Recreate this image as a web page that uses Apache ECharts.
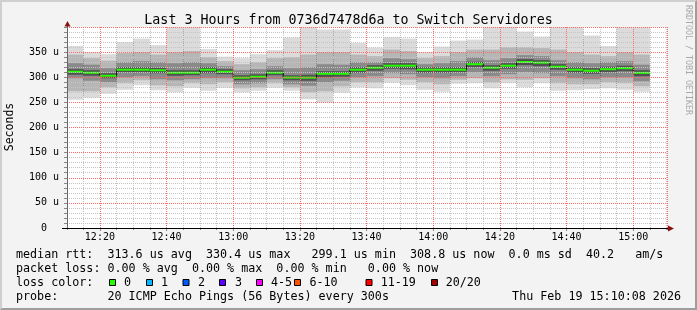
<!DOCTYPE html>
<html><head><meta charset="utf-8">
<script src="https://cdn.jsdelivr.net/npm/echarts@6/dist/echarts.min.js"></script>
<style>
html,body{margin:0;padding:0;background:#f3f3f3;}
#chart{position:absolute;left:0;top:0;width:697px;height:310px;}
#frame{position:absolute;left:0;top:0;width:697px;height:310px;box-sizing:border-box;border-top:2px solid #cfcfcf;border-left:2px solid #cfcfcf;border-right:2px solid #9e9e9e;border-bottom:2px solid #9e9e9e;pointer-events:none;}
</style></head><body>
<div id="chart"></div><div id="frame"></div>
<script>
// ---- data (microseconds) ----
const medianVals = [311,309,303,315,315,314,309,309,315,311,299.1,301,309,299.4,299.2,307,307,315,319,323,323,315,315,315,326,319,323,330.4,329,321,315,313,316,318,308.8];
const maxVals    = [362,350,346,370,377,364,415,415,356,341,338,346,354,379,415,395,395,368,359,380,377,350,361,373,375,415,415,391,381,415,415,383,362,415,415];
const hi2Vals    = [345,338,333,348,350,345,350,352,340,332,326,330,338,340,345,350,350,345,342,355,352,338,342,350,355,355,360,360,358,355,350,345,342,350,345];
const hi1Vals    = [328,325,318,330,332,330,328,330,328,322,314,316,322,318,320,326,325,330,330,338,336,326,328,332,340,334,338,344,342,334,330,328,330,332,325];
const coreHiVals = [316,314,308,320,320,319,314,314,320,316,304,306,314,304,305,312,312,320,324,328,328,320,320,320,331,324,328,336,334,326,320,318,321,323,314];
const coreLoVals = [305,303,298,310,310,308,303,304,308,306,294,296,304,294,293,300,301,309,313,317,316,309,309,310,320,313,317,324,322,315,309,307,310,312,302];
const lo1Vals    = [298,293,290,300,302,296,294,296,298,298,286,288,296,286,283,290,293,300,302,308,306,300,298,302,310,302,306,310,308,302,298,296,300,300,292];
const lo2Vals    = [272,272,280,288,294,284,282,288,286,290,278,280,288,280,270,272,282,290,290,298,295,290,286,295,298,290,296,295,298,288,286,286,290,288,282];
const minVals    = [255,259,267,275,284,274,270,279,273,279,270,273,279,273,256,250,269,280,278,289,284,275,271,287,288,278,288,280,288,273,274,276,278,275,271];
const yTicks = [0,50,100,150,200,250,300,350];
const lossLabels = ["0","1","2","3","4-5","6-10","11-19","20/20"];
const lossColors = ["#26ff00","#00b8ff","#0059ff","#5e00ff","#ff00ff","#ff5500","#ff0000","#a00000"];

const T0 = new Date(2026,1,19,12,10,8).getTime();
const T1 = T0 + 3*3600*1000;
const slotBase = new Date(2026,1,19,12,10,0).getTime();
const STEP = 300*1000;

const rows = medianVals.map((m,i)=>[slotBase+i*STEP, slotBase+(i+1)*STEP,
  minVals[i], lo2Vals[i], lo1Vals[i], coreLoVals[i], coreHiVals[i], hi1Vals[i], hi2Vals[i], maxVals[i],
  m, i>0 ? medianVals[i-1] : -1]);

const MONO = "'DejaVu Sans Mono', monospace";
const chart = echarts.init(document.getElementById('chart'), null, {renderer:'canvas'});

function txt(x,y,text,size,align){
  align = align||'left';
  return {type:'text', silent:true, style:{
    x:x, y:y, text:text, font: size+'px '+MONO, fill:'#000',
    textAlign:align, textVerticalAlign:'middle', align:align, verticalAlign:'middle'}};
}

const graphics = [];
const L = 16;
graphics.push(txt(L,254.5,"median rtt:  313.6 us avg  330.4 us max   299.1 us min  308.8 us now  0.0 ms sd  40.2   am/s",11.7));
graphics.push(txt(L,268.5,"packet loss: 0.00 % avg  0.00 % max  0.00 % min   0.00 % now",11.7));
graphics.push(txt(L,282.5,"loss color:",11.7));
graphics.push(txt(L,296.5,"probe:       20 ICMP Echo Pings (56 Bytes) every 300s",11.7));
graphics.push(txt(681,296.5,"Thu Feb 19 15:10:08 2026",11.7,'right'));
const sqX = [109,146,182.5,219,256,294,365.5,431];
const lbX = [124,161,198,235,271,309.5,380.7,445.7];
lossLabels.forEach((lab,i)=>{
  graphics.push({type:'rect', silent:true, shape:{x:sqX[i]+0.5,y:279.5,width:6,height:6},
    style:{fill:lossColors[i], stroke:'#000', lineWidth:1}});
  graphics.push(txt(lbX[i],282.5,lab,11.7));
});
graphics.push({type:'text', silent:true, x:10, y:127, rotation:Math.PI/2,
  style:{text:'Seconds', font:'11.5px '+MONO, fill:'#000', textAlign:'center', textVerticalAlign:'middle', align:'center', verticalAlign:'middle'}});
graphics.push({type:'text', silent:true, x:688, y:60, rotation:-Math.PI/2,
  style:{text:'RRDTOOL / TOBI OETIKER', font:'8.3px '+MONO, fill:'#a8a8a8', textAlign:'center', textVerticalAlign:'middle', align:'center', verticalAlign:'middle'}});
graphics.push({type:'line', silent:true, shape:{x1:67.5,y1:27,x2:67.5,y2:23}, style:{stroke:'#666',lineWidth:1}});
graphics.push({type:'line', silent:true, shape:{x1:62,y1:228.5,x2:668,y2:228.5}, style:{stroke:'#000',lineWidth:1}, z:50});
graphics.push({type:'polygon', silent:true, shape:{points:[[64.5,26.5],[70.5,26.5],[67.5,21]]}, style:{fill:'#8b1010'}, z:50});
graphics.push({type:'polygon', silent:true, shape:{points:[[668,225.5],[668,231.5],[674,228.5]]}, style:{fill:'#8b1010'}, z:50});

const bandFills = ['rgba(0,0,0,0.14)','rgba(0,0,0,0.17)','rgba(0,0,0,0.24)','rgba(0,0,0,0.42)'];
const MAJOR = '#ff6a6a';
const MINOR = '#c4c4c4';

const option = {
  backgroundColor:'#f3f3f3',
  animation:false,
  title:{text:'Last 3 Hours from 0736d7478d6a to Switch Servidores', left:'center', top:9,
    textStyle:{fontFamily:MONO, fontSize:13.3, fontWeight:'normal', color:'#000'}},
  grid:{left:67, right:30, top:27, bottom:82, show:true, backgroundColor:'#ffffff', borderWidth:0},
  xAxis:[{type:'time', min:T0, max:T1, splitNumber:8, minInterval:21*60*1000, maxInterval:25*60*1000, z:3,
    axisLine:{show:true, lineStyle:{color:'#000', width:1}},
    axisTick:{show:true, length:3, lineStyle:{color:'#888'}},
    axisLabel:{formatter:'{HH}:{mm}', fontFamily:MONO, fontSize:10, color:'#000', margin:4,
      showMinLabel:false, showMaxLabel:false, hideOverlap:false},
    splitLine:{show:true, lineStyle:{color:MAJOR, type:'dotted', width:1}}
  },{type:'time', min:T0, max:T1, splitNumber:30, minInterval:6*60*1000, maxInterval:9*60*1000, z:1,
    position:'bottom',
    axisLine:{show:false},
    axisTick:{show:true, length:2, lineStyle:{color:'#888'}},
    axisLabel:{show:false},
    splitLine:{show:true, lineStyle:{color:MINOR, type:'dotted', width:1}}
  }],
  yAxis:{type:'value', min:0, max:400, interval:50, z:3,
    axisLine:{show:true, lineStyle:{color:'#666'}},
    axisTick:{show:true, length:3, lineStyle:{color:'#888'}},
    minorTick:{show:true, splitNumber:5, length:3, lineStyle:{color:'#888'}},
    axisLabel:{fontFamily:MONO, fontSize:10, color:'#000', margin:8, showMaxLabel:false,
      formatter:v=> yTicks.indexOf(v)<0 ? '' : (v===0 ? '0  ' : v+' u')},
    splitLine:{show:true, lineStyle:{color:MAJOR, type:'dotted', width:1}},
    minorSplitLine:{show:true, lineStyle:{color:MINOR, type:'dotted', width:1}}
  },
  graphic: graphics,
  series:[{
    type:'custom', clip:true, data:rows, xAxisIndex:0,
    encode:{x:[0,1], y:[2,9]},
    renderItem:function(params, api){
      const t0=api.value(0), t1=api.value(1);
      const x0=api.coord([t0,0])[0], x1=api.coord([t1,0])[0];
      const Y=v=>api.coord([t0,v])[1];
      const ch=[];
      const pairs=[[2,9],[3,8],[4,7],[5,6]];
      pairs.forEach((p,k)=>{
        const yt=Y(api.value(p[1])), yb=Y(api.value(p[0]));
        ch.push({type:'rect', shape:{x:x0,y:yt,width:x1-x0,height:yb-yt}, style:{fill:bandFills[k]}});
      });
      const ym=Y(api.value(10));
      const prev=api.value(11);
      if(prev>0){
        const yp=Y(prev);
        ch.push({type:'line', shape:{x1:x0,y1:yp,x2:x0,y2:ym}, style:{stroke:'#111',lineWidth:1}});
      }
      ch.push({type:'line', shape:{x1:x0,y1:ym,x2:x1,y2:ym}, style:{stroke:'#26ff00',lineWidth:2}});
      return {type:'group', children:ch};
    }
  }]
};
chart.setOption(option);
</script>
</body></html>
